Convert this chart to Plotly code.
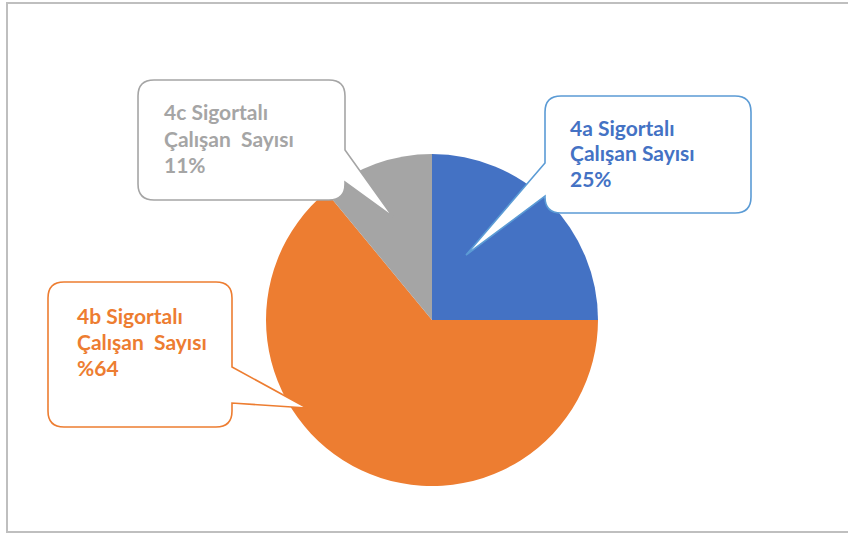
import plotly.graph_objects as go

# ---- data ----
categories = ["4a Sigortalı Çalışan Sayısı", "4b Sigortalı Çalışan Sayısı", "4c Sigortalı Çalışan Sayısı"]
values = [25, 64, 11]
colors = ["#4472C4", "#ED7D31", "#A5A5A5"]
label_lines = [
    ["4a Sigortalı", "Çalışan Sayısı", "25%"],
    ["4b Sigortalı", "Çalışan  Sayısı", "%64"],
    ["4c Sigortalı", "Çalışan  Sayısı", "11%"],
]
border_colors = ["#5B9BD5", "#ED7D31", "#A5A5A5"]

W, H = 848, 536


def px(x):
    return x / W


def py(y):
    return 1 - y / H


# pie geometry (pixels)
cx, cy, R = 432, 320, 166

fig = go.Figure(go.Pie(
    labels=categories,
    values=values,
    marker=dict(colors=colors, line=dict(width=0)),
    sort=False,
    direction="clockwise",
    rotation=0,
    textinfo="none",
    hoverinfo="label+percent",
    showlegend=False,
    domain=dict(x=[px(cx - R), px(cx + R)], y=[py(cy + R), py(cy - R)]),
))


def callout_path(x0, y0, x1, y1, r, side, b0, b1, tip):
    """Rounded rectangle with a triangular tail. Pixel coords -> paper path."""

    def P(x, y):
        return f"{px(x):.5f},{py(y):.5f}"

    d = f"M{P(x0 + r, y0)} L{P(x1 - r, y0)} Q{P(x1, y0)} {P(x1, y0 + r)} "
    if side == "right":
        d += f"L{P(x1, b0)} L{P(*tip)} L{P(x1, b1)} "
    d += f"L{P(x1, y1 - r)} Q{P(x1, y1)} {P(x1 - r, y1)} "
    d += f"L{P(x0 + r, y1)} Q{P(x0, y1)} {P(x0, y1 - r)} "
    if side == "left":
        d += f"L{P(x0, b1)} L{P(*tip)} L{P(x0, b0)} "
    d += f"L{P(x0, y0 + r)} Q{P(x0, y0)} {P(x0 + r, y0)} Z"
    return d


boxes = [
    dict(box=(545, 96, 751, 213), side="left", b0=163, b1=196, tip=(466, 255), text=(568, 127)),
    dict(box=(48, 282, 232, 427), side="right", b0=367, b1=403, tip=(307, 408), text=(75, 315)),
    dict(box=(138, 80, 345, 200), side="right", b0=150, b1=182, tip=(393, 217), text=(162, 112)),
]

shapes = []
annotations = []
for i, b in enumerate(boxes):
    x0, y0, x1, y1 = b["box"]
    shapes.append(dict(
        type="path", xref="paper", yref="paper", layer="above",
        path=callout_path(x0, y0, x1, y1, 16, b["side"], b["b0"], b["b1"], b["tip"]),
        fillcolor="white", line=dict(color=border_colors[i], width=1.6),
    ))
    tx, ty = b["text"]
    for j, line in enumerate(label_lines[i]):
        annotations.append(dict(
            x=px(tx), y=py(ty + j * 26), xref="paper", yref="paper",
            xanchor="left", yanchor="middle", showarrow=False,
            text=line, font=dict(family="Lato", size=21, color=colors[i], weight="bold"),
        ))

# outer frame
shapes.append(dict(type="rect", xref="paper", yref="paper", layer="below",
                   x0=px(7), x1=px(870), y0=py(532), y1=py(3),
                   line=dict(color="#BFBFBF", width=2), fillcolor="rgba(0,0,0,0)"))

fig.update_layout(
    width=W, height=H,
    margin=dict(l=0, r=0, t=0, b=0),
    paper_bgcolor="white", plot_bgcolor="white",
    shapes=shapes, annotations=annotations,
)

fig.write_html("out.html", config={"displayModeBar": False},
               post_script="document.body.style.margin='0px';")
